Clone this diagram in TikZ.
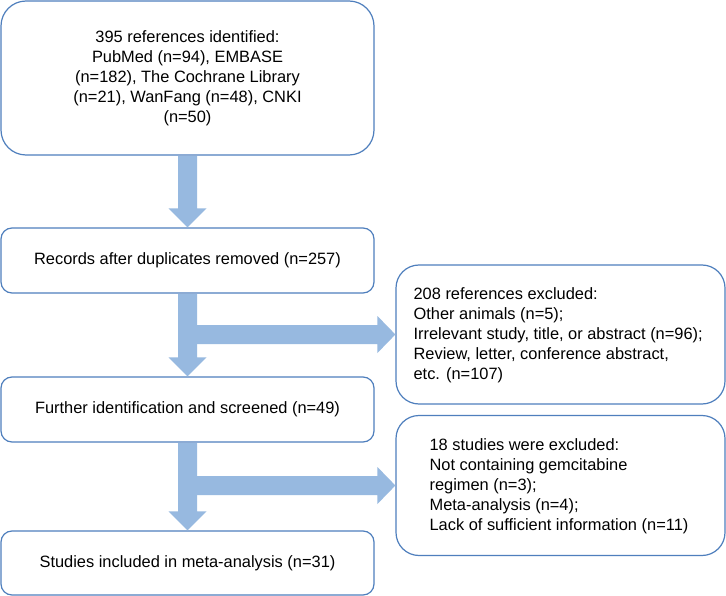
\documentclass[tikz,border=0pt]{standalone}
\usepackage{fontspec}
\setmainfont{Liberation Sans}
\usetikzlibrary{calc}
\definecolor{edgeblue}{RGB}{79,127,189}
\definecolor{arrowblue}{RGB}{151,185,224}
\tikzset{
  box/.style={draw=edgeblue, line width=1.2pt, fill=white, inner sep=0pt,
    font=\fontsize{16.4}{20}\selectfont, align=center},
  sidetxt/.style={inner sep=0pt, font=\fontsize{16.4}{20}\selectfont, align=left, anchor=west},
  blockarrow/.style={fill=arrowblue, draw=none}
}
\begin{document}
\begin{tikzpicture}[x=1pt,y=-1pt]
\useasboundingbox (0,0) rectangle (726,596);
\fill[white] (0,0) rectangle (726,596);

% boxes
\node[box, minimum width=373pt, minimum height=154pt, rounded corners=25pt] (b1) at (187.5,78)
  {395 references identified:\\ PubMed (n=94), EMBASE\\ (n=182), The Cochrane Library\\ (n=21), WanFang (n=48), CNKI\\ (n=50)};
\node[box, minimum width=373pt, minimum height=65pt, rounded corners=11pt] (b2) at (187.5,260.5)
  {Records after duplicates removed (n=257)};
\node[box, minimum width=373pt, minimum height=65pt, rounded corners=11pt] (b3) at (187.5,409.5)
  {Further identification and screened (n=49)};
\node[box, minimum width=373pt, minimum height=64pt, rounded corners=11pt] (b4) at (187.5,563)
  {Studies included in meta-analysis (n=31)};
\node[box, minimum width=329pt, minimum height=139pt, rounded corners=23pt] (e1) at (560.5,334.5) {};
\node[box, minimum width=329pt, minimum height=140pt, rounded corners=23pt] (e2) at (560.5,485.5) {};

\node[sidetxt] (t1) at ($(e1.west)+(18,1)$)
  {208 references excluded:\\ Other animals (n=5);\\ Irrelevant study, title, or abstract (n=96);\\ Review, letter, conference abstract,\\ etc. (n=107)};
\node[sidetxt] (t2) at ($(e2.west)+(34,1)$)
  {18 studies were excluded:\\ Not containing gemcitabine\\ regimen (n=3);\\ Meta-analysis (n=4);\\ Lack of sufficient information (n=11)};

% vertical block arrows
\foreach \a/\b in {b1/b2, b2/b3, b3/b4}{
  \fill[blockarrow] ($(\a.south)+(-9.5,0.6)$) -- ($(\b.north)+(-9.5,-19)$) -- ($(\b.north)+(-19,-19)$)
    -- (\b.north) -- ($(\b.north)+(19,-19)$) -- ($(\b.north)+(9.5,-19)$) -- ($(\a.south)+(9.5,0.6)$) -- cycle;
}

% horizontal branch arrows
\coordinate (s2) at ($(b2.south)+(9,0)$);
\coordinate (s3) at ($(b3.south)+(9,0)$);
\foreach \s/\e in {s2/e1, s3/e2}{
  \fill[blockarrow] ($(\s |- \e.west)+(0,-9.5)$) -- ($(\e.west)+(-18,-9.5)$) -- ($(\e.west)+(-18,-18.5)$)
    -- (\e.west) -- ($(\e.west)+(-18,18.5)$) -- ($(\e.west)+(-18,9.5)$) -- ($(\s |- \e.west)+(0,9.5)$) -- cycle;
}
\end{tikzpicture}
\end{document}
